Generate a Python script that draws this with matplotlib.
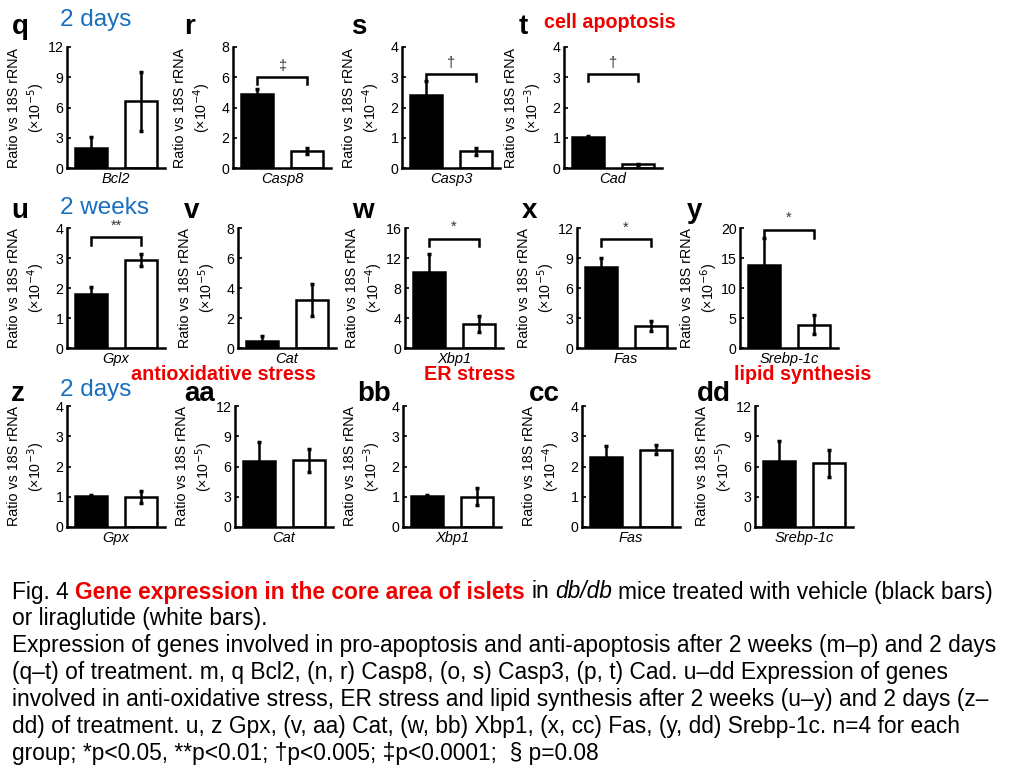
import matplotlib
matplotlib.use("Agg")
import matplotlib.pyplot as plt

plt.rcParams['font.family'] = ['Liberation Sans', 'DejaVu Sans']

# ---------------- data ----------------
panel_ids = ['q', 'r', 's', 't', 'u', 'v', 'w', 'x', 'y', 'z', 'aa', 'bb', 'cc', 'dd']
genes = ['Bcl2', 'Casp8', 'Casp3', 'Cad', 'Gpx', 'Cat', 'Xbp1', 'Fas', 'Srebp-1c',
         'Gpx', 'Cat', 'Xbp1', 'Fas', 'Srebp-1c']
exponents = [-5, -4, -4, -3, -4, -5, -4, -5, -6, -3, -5, -3, -4, -5]
vehicle_mean = [2.0, 4.9, 2.42, 1.02, 1.8, 0.45, 10.1, 8.1, 13.8, 1.02, 6.5, 1.02, 2.3, 6.5]
vehicle_err = [1.1, 0.3, 0.45, 0.05, 0.25, 0.35, 2.5, 0.9, 4.6, 0.05, 1.9, 0.05, 0.38, 2.0]
lira_mean = [6.6, 1.15, 0.55, 0.12, 2.95, 3.2, 3.2, 2.2, 3.9, 1.0, 6.6, 1.0, 2.55, 6.3]
lira_err = [2.9, 0.2, 0.12, 0.02, 0.2, 1.05, 1.1, 0.5, 1.6, 0.2, 1.1, 0.28, 0.15, 1.35]
y_max = [12, 8, 4, 4, 4, 8, 16, 12, 20, 4, 12, 4, 4, 12]
y_step = [3, 2, 1, 1, 1, 2, 4, 3, 5, 1, 3, 1, 1, 3]
sig_marks = {'r': '‡', 's': '†', 't': '†', 'u': '**', 'w': '*', 'x': '*', 'y': '*'}
sig_level = {'r': 6.0, 's': 3.1, 't': 3.1, 'u': 3.7, 'w': 14.6, 'x': 10.9, 'y': 19.7}
sig_drop = {'r': 0.45, 's': 0.22, 't': 0.22, 'u': 0.25, 'w': 1.0, 'x': 0.7, 'y': 1.4}

# ---------------- layout (pixels) ----------------
W, H = 1024, 768
fig = plt.figure(figsize=(W / 100, H / 100), dpi=100)

ax_left = [67, 233, 402, 564,
           67, 238, 405, 577, 740,
           67, 235, 403, 582, 755]
row_of = [0, 0, 0, 0, 1, 1, 1, 1, 1, 2, 2, 2, 2, 2]
row_top = [47, 228, 406]
row_bot = [168, 348, 527]
ax_w = 98
letter_x = [12, 184, 351, 519, 11, 184, 352, 522, 687, 11, 184, 357, 529, 697]
letter_base = [34, 218, 401]

lw = 1.8
for i, pid in enumerate(panel_ids):
    r = row_of[i]
    top, bot = row_top[r], row_bot[r]
    ax = fig.add_axes([ax_left[i] / W, (H - bot) / H, ax_w / W, (bot - top) / H])
    ax.bar([0], [vehicle_mean[i]], width=0.64, color='black', edgecolor='black', linewidth=lw)
    ax.bar([1], [lira_mean[i]], width=0.64, color='white', edgecolor='black', linewidth=lw)
    ax.errorbar([0, 1], [vehicle_mean[i], lira_mean[i]], yerr=[vehicle_err[i], lira_err[i]],
                fmt='none', ecolor='black', elinewidth=1.8, capsize=1.5, capthick=2.5)
    ax.set_xlim(-0.48, 1.48)
    ax.set_ylim(0, y_max[i])
    ax.set_yticks(range(0, y_max[i] + 1, y_step[i]))
    ax.set_xticks([])
    for s in ['top', 'right']:
        ax.spines[s].set_visible(False)
    for s in ['left', 'bottom']:
        ax.spines[s].set_linewidth(lw)
    ax.tick_params(axis='y', direction='in', length=3, width=1.2, labelsize=10.2, pad=2.5)
    ax.set_xlabel(genes[i], fontsize=10.5, style='italic', labelpad=3)
    ax.set_ylabel('Ratio vs 18S rRNA\n(×10$^{%d}$)' % exponents[i], fontsize=10.3,
                  linespacing=1.3)
    ax.yaxis.set_label_coords(-0.2, 0.5)
    if pid in sig_marks:
        h = sig_level[pid]
        d = sig_drop[pid]
        ax.plot([0, 0, 1, 1], [h - d, h, h, h - d], color='black', lw=1.8,
                clip_on=False, solid_joinstyle='miter')
        ax.text(0.5, h + d * 0.6, sig_marks[pid], ha='center', va='bottom', fontsize=10.5,
                color='#333333')
    fig.text(letter_x[i] / W, 1 - letter_base[r] / H, pid, fontsize=20, fontweight='bold',
             ha='left', va='baseline')

# ---------------- annotations ----------------
blue = '#1a6fc0'
for txt, x, y in [('2 days', 60, 20), ('2 weeks', 60, 208), ('2 days', 60, 390)]:
    fig.text(x / W, 1 - y / H, txt, fontsize=17.5, color=blue, ha='left', va='center')

red = '#ee0000'
for txt, x, y in [('cell apoptosis', 610, 23), ('antioxidative stress', 223, 374),
                  ('ER stress', 470, 374), ('lipid synthesis', 803, 374)]:
    fig.text(x / W, 1 - y / H, txt, fontsize=14.2, color=red, fontweight='bold',
             ha='center', va='center')

# ---------------- caption ----------------
cap_fs = 16.4
renderer = fig.canvas.get_renderer()


def put(x_px, y_px, s, **kw):
    t = fig.text(x_px / W, 1 - y_px / H, s, fontsize=cap_fs, ha='left', va='center', **kw)
    bb = t.get_window_extent(renderer=renderer)
    return bb.x1


tmp = fig.text(0, 0, 'a a', fontsize=cap_fs)
tmp2 = fig.text(0, 0, 'aa', fontsize=cap_fs)
space_w = tmp.get_window_extent(renderer).width - tmp2.get_window_extent(renderer).width
tmp.remove()
tmp2.remove()

line1 = [('Fig. 4', {}), ('Gene expression in the core area of islets', {'color': red, 'fontweight': 'bold'}),
         ('in', {}), ('db/db', {'style': 'italic'}), ('mice treated with vehicle (black bars)', {})]
x = 12
for s, kw in line1:
    x = put(x, 592, s, **kw) + space_w

caption_lines = [
    'or liraglutide (white bars).',
    'Expression of genes involved in pro-apoptosis and anti-apoptosis after 2 weeks (m–p) and 2 days',
    '(q–t) of treatment. m, q Bcl2, (n, r) Casp8, (o, s) Casp3, (p, t) Cad. u–dd Expression of genes',
    'involved in anti-oxidative stress, ER stress and lipid synthesis after 2 weeks (u–y) and 2 days (z–',
    'dd) of treatment. u, z Gpx, (v, aa) Cat, (w, bb) Xbp1, (x, cc) Fas, (y, dd) Srebp-1c. n=4 for each',
    'group; *p<0.05, **p<0.01; †p<0.005; ‡p<0.0001;  § p=0.08',
]
for k, s in enumerate(caption_lines):
    put(12, 619 + 26.9 * k, s)

fig.savefig('out.png', dpi=100)
